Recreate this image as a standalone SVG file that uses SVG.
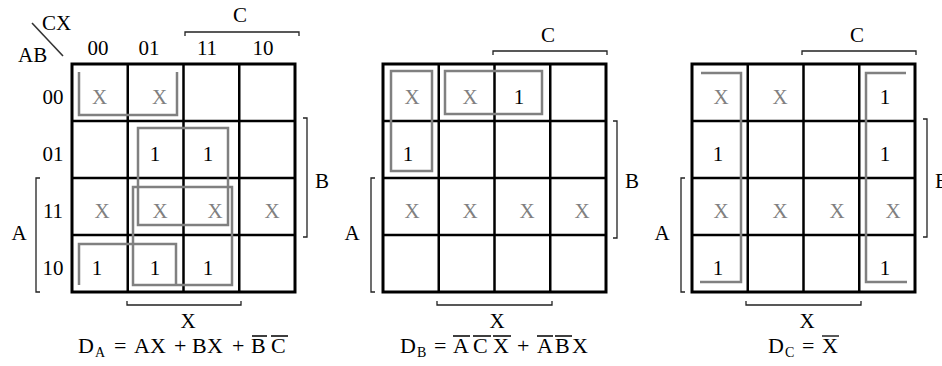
<svg xmlns="http://www.w3.org/2000/svg" width="942" height="366" viewBox="0 0 942 366">
<style>
text{font-family:"Liberation Serif","Times New Roman",serif;font-size:21px;fill:#000}
.m{text-anchor:middle}
.g{fill:#808080}
.eq text{font-size:22px}
.eq text.sub{font-size:14px}
.grid{fill:none;stroke:#000;stroke-width:2.5}
.outer{fill:none;stroke:#000;stroke-width:3}
.loop{fill:none;stroke:#808080;stroke-width:2.5}
.br{fill:none;stroke:#222;stroke-width:1.3}
.ov{stroke:#000;stroke-width:1.3}
</style>
<rect width="942" height="366" fill="#fff"/>

<!-- Map 1 -->
<g id="map-a">
  <g id="map-a-grid">
    <path class="grid" d="M127.75,64V292M183.5,64V292M239.25,64V292M72,121H295M72,178H295M72,235H295"/>
    <rect class="outer" x="72" y="64" width="223" height="228"/>
  </g>
  <g id="map-a-labels">
    <line x1="32" y1="23" x2="63" y2="56" stroke="#333" stroke-width="1.6"/>
    <text x="42" y="30">CX</text>
    <text x="18" y="62">AB</text>
    <text class="m" x="98" y="55">00</text>
    <text class="m" x="149" y="55">01</text>
    <text class="m" x="207" y="55">11</text>
    <text class="m" x="263" y="55">10</text>
    <text class="m" x="53" y="103.5">00</text>
    <text class="m" x="53" y="160.5">01</text>
    <text class="m" x="53" y="217.5">11</text>
    <text class="m" x="53" y="274.5">10</text>
  </g>
  <g id="map-a-brackets">
    <path class="br" d="M185,36V32H299V36"/>
    <text class="m" x="240" y="22">C</text>
    <path class="br" d="M303,118H307V237H303"/>
    <text x="315" y="188">B</text>
    <path class="br" d="M40,178H36V292H40"/>
    <text class="m" x="19" y="240">A</text>
    <path class="br" d="M127,301V305H241V301"/>
    <text class="m" x="188" y="328">X</text>
  </g>
  <g id="map-a-cells">
    <text class="m g" x="99.5" y="103.5">X</text>
    <text class="m g" x="159.5" y="103.5">X</text>
    <text class="m" x="155" y="160.5">1</text>
    <text class="m" x="208" y="160.5">1</text>
    <text class="m g" x="102" y="217.5">X</text>
    <text class="m g" x="160" y="217.5">X</text>
    <text class="m g" x="215" y="217.5">X</text>
    <text class="m g" x="272" y="217.5">X</text>
    <text class="m" x="97" y="274.5">1</text>
    <text class="m" x="155" y="274.5">1</text>
    <text class="m" x="208" y="274.5">1</text>
  </g>
  <g id="map-a-loops">
    <path class="loop" d="M79,72V115H177V72"/>
    <rect class="loop" x="138" y="128" width="90" height="97"/>
    <rect class="loop" x="133" y="187" width="99" height="98"/>
    <path class="loop" d="M79,285V244H176V285"/>
  </g>
  <g id="eq-a" class="eq">
    <text x="78" y="353">D</text>
    <text class="sub" x="95" y="357">A</text>
    <text x="114" y="353">=</text>
    <text x="134" y="353">A</text>
    <text x="150" y="353">X</text>
    <text x="174" y="353">+</text>
    <text x="192" y="353">B</text>
    <text x="207" y="353">X</text>
    <text x="232" y="353">+</text>
    <text x="251" y="353">B</text>
    <text x="271" y="353">C</text>
    <path class="ov" d="M252,336H267M271,336H288"/>
  </g>
</g>

<!-- Map 2 -->
<g id="map-b">
  <g id="map-b-grid">
    <path class="grid" d="M438.75,64V292M494.5,64V292M550.25,64V292M383,121H606M383,178H606M383,235H606"/>
    <rect class="outer" x="383" y="64" width="223" height="228"/>
  </g>
  <g id="map-b-brackets">
    <path class="br" d="M493,55V51H607V55"/>
    <text class="m" x="548" y="42">C</text>
    <path class="br" d="M613,121H617V238H613"/>
    <text x="625" y="188">B</text>
    <path class="br" d="M375,178H371V292H375"/>
    <text class="m" x="352" y="240">A</text>
    <path class="br" d="M437,301V305H552V301"/>
    <text class="m" x="497" y="328">X</text>
  </g>
  <g id="map-b-cells">
    <text class="m g" x="412" y="103.5">X</text>
    <text class="m g" x="470" y="103.5">X</text>
    <text class="m" x="519" y="103.5">1</text>
    <text class="m" x="408" y="160.5">1</text>
    <text class="m g" x="412" y="217.5">X</text>
    <text class="m g" x="470" y="217.5">X</text>
    <text class="m g" x="527" y="217.5">X</text>
    <text class="m g" x="582" y="217.5">X</text>
  </g>
  <g id="map-b-loops">
    <rect class="loop" x="391" y="71" width="41" height="100"/>
    <rect class="loop" x="445" y="71" width="97" height="43"/>
  </g>
  <g id="eq-b" class="eq">
    <text x="400" y="353">D</text>
    <text class="sub" x="417" y="357">B</text>
    <text x="434" y="353">=</text>
    <text x="453" y="353">A</text>
    <text x="473" y="353">C</text>
    <text x="493" y="353">X</text>
    <text x="517" y="353">+</text>
    <text x="537" y="353">A</text>
    <text x="555" y="353">B</text>
    <text x="572" y="353">X</text>
    <path class="ov" d="M453,336H470M473,336H491M493,336H511M537,336H553M555,336H572"/>
  </g>
</g>

<!-- Map 3 -->
<g id="map-c">
  <g id="map-c-grid">
    <path class="grid" d="M747.75,64V292M803.5,64V292M859.25,64V292M692,121H915M692,178H915M692,235H915"/>
    <rect class="outer" x="692" y="64" width="223" height="228"/>
  </g>
  <g id="map-c-brackets">
    <path class="br" d="M802,55V51H916V55"/>
    <text class="m" x="857" y="42">C</text>
    <path class="br" d="M923,119H927V237H923"/>
    <text x="935" y="188">B</text>
    <path class="br" d="M685,178H681V292H685"/>
    <text class="m" x="662" y="240">A</text>
    <path class="br" d="M746,301V305H861V301"/>
    <text class="m" x="807" y="328">X</text>
  </g>
  <g id="map-c-cells">
    <text class="m g" x="721" y="103.5">X</text>
    <text class="m g" x="780" y="103.5">X</text>
    <text class="m" x="885" y="103.5">1</text>
    <text class="m" x="718" y="160.5">1</text>
    <text class="m" x="885" y="160.5">1</text>
    <text class="m g" x="721" y="217.5">X</text>
    <text class="m g" x="780" y="217.5">X</text>
    <text class="m g" x="837" y="217.5">X</text>
    <text class="m g" x="893" y="217.5">X</text>
    <text class="m" x="718" y="274.5">1</text>
    <text class="m" x="885" y="274.5">1</text>
  </g>
  <g id="map-c-loops">
    <path class="loop" d="M701,73H741V282H700"/>
    <path class="loop" d="M906,73H866V282H907"/>
  </g>
  <g id="eq-c" class="eq">
    <text x="768" y="353">D</text>
    <text class="sub" x="785" y="357">C</text>
    <text x="802" y="353">=</text>
    <text x="822" y="353">X</text>
    <path class="ov" d="M822,336H839"/>
  </g>
</g>
</svg>
